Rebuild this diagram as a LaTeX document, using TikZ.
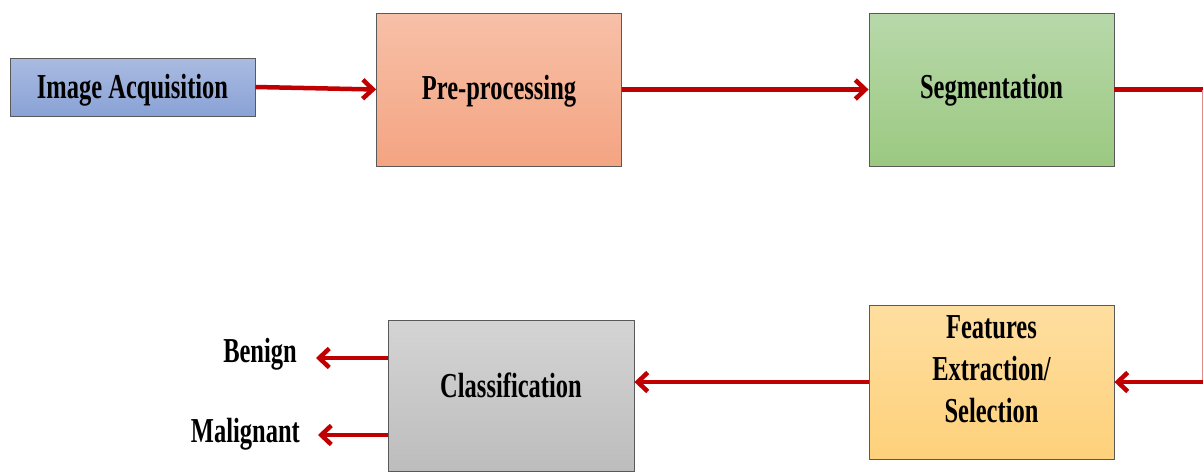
\documentclass[tikz,border=0pt]{standalone}
\usepackage{fontspec}
\setmainfont{Liberation Serif}[FakeStretch=0.7]
\usepackage{xcolor}
\usepackage{tikz}
\usetikzlibrary{positioning,arrows.meta}
\definecolor{arrowred}{HTML}{C00000}
\definecolor{acqA}{HTML}{AABBE0}\definecolor{acqB}{HTML}{89A2D6}
\definecolor{preA}{HTML}{F7C0A8}\definecolor{preB}{HTML}{F4A482}
\definecolor{segA}{HTML}{B8D8AA}\definecolor{segB}{HTML}{9BC981}
\definecolor{featA}{HTML}{FEDEA0}\definecolor{featB}{HTML}{FED17B}
\definecolor{clsA}{HTML}{D4D4D4}\definecolor{clsB}{HTML}{BDBDBD}
\def\pagebox{(0,0) rectangle (1203,472)}
\tikzset{
bigtext/.style={font=\fontsize{35}{42}\selectfont\bfseries},
stage/.style={bigtext, draw=black!65, line width=0.9pt, align=center, inner sep=0pt,
  text height=23pt, text depth=0pt, minimum width=245pt, minimum height=153pt},
flow/.style={draw=arrowred, line width=4.5pt, -{Straight Barb[length=10pt,width=19pt,line width=4.5pt]}},
outlabel/.style={bigtext, anchor=base east, inner sep=0pt}
}
\begin{document}
\begin{tikzpicture}[x=1pt,y=-1pt]
\useasboundingbox \pagebox;
\node[stage, minimum height=58pt, top color=acqA, bottom color=acqB] (acq) at (132.5,87) {Image Acquisition};
\node[stage, text depth=4pt, top color=preA, bottom color=preB] (pre) at (499,89.5) {Pre-processing};
\node[stage, text depth=5pt, top color=segA, bottom color=segB] (seg) at (991.5,89.5) {Segmentation};
\node[stage, minimum height=154pt, text height=105pt, text depth=25pt, top color=featA, bottom color=featB] (feat) at (991.5,382) {Features\\Extraction/\\Selection};
\node[stage, minimum width=246pt, minimum height=151pt, text depth=19pt, top color=clsA, bottom color=clsB] (cls) at (511,395.5) {Classification};
\node[outlabel] (benign) at (297,362) {Benign};
\node[outlabel] (malig) at (300,442) {Malignant};
\coordinate (benignTip) at (316,358);
\coordinate (maligTip) at (318,435);
\coordinate (turnT) at (1203,89.5);
\coordinate (turnB) at (1203,382);
\draw[flow] (acq.east) -- (pre.west);
\draw[flow] (pre.east) -- (seg.west);
\draw[arrowred, line width=4.5pt] (seg.east) -- (turnT);
\draw[arrowred!45, line width=1pt] ([xshift=-1pt]turnT) -- ([xshift=-1pt]turnB);
\draw[flow] (turnB) -- (feat.east);
\draw[flow] (feat.west) -- (cls.east |- feat.west);
\draw[flow] (cls.west |- benignTip) -- (benignTip);
\draw[flow] (cls.west |- maligTip) -- (maligTip);
\end{tikzpicture}
\end{document}
